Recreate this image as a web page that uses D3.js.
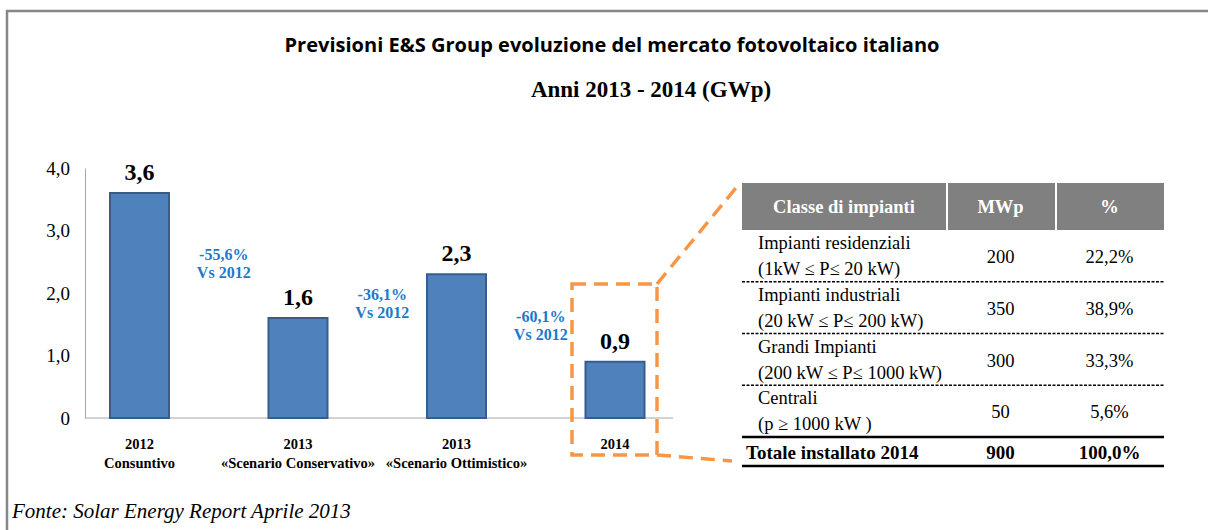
<!DOCTYPE html>
<html>
<head>
<meta charset="utf-8">
<script src="https://cdn.jsdelivr.net/npm/d3@7"></script>
<style>
  body { margin: 0; background: #fff; }
  svg { display: block; }
</style>
</head>
<body>
<script>
// dati del grafico
let years = ["2012", "2013", "2013", "2014"];
let scenarios = ["Consuntivo", "«Scenario Conservativo»", "«Scenario Ottimistico»", ""];
let values = [3.6, 1.6, 2.3, 0.9];
let changes = ["-55,6%", "-36,1%", "-60,1%"];
let yTicks = [0, 1, 2, 3, 4];

// tabella 2014
let classes = ["Impianti residenziali", "Impianti industriali", "Grandi Impianti", "Centrali"];
let ranges = ["(1kW \u2264 P\u2264 20 kW)", "(20 kW \u2264 P\u2264 200 kW)", "(200 kW \u2264 P\u2264  1000 kW)", "(p \u2265 1000 kW )"];
let mwp = [200, 350, 300, 50];
let headers = ["Classe di impianti", "MWp", "%"];

let width = 1208,
    height = 530;

let it = d3.formatLocale({ decimal: ",", thousands: ".", grouping: [3], currency: ["€", ""] });
let f1 = it.format(".1f");
let serif = "'Liberation Serif', 'Times New Roman', serif";

let svg = d3.select("body").append("svg")
    .attr("width", width).attr("height", height);

// cornice
svg.append("path")
    .attr("d", "M7,530 V11 H1208")
    .attr("fill", "none").attr("stroke", "#878787").attr("stroke-width", 2.5);

// titoli
svg.append("text").attr("x", 612).attr("y", 52)
    .attr("text-anchor", "middle")
    .attr("font-family", "'Open Sans', sans-serif").attr("font-weight", "bold")
    .attr("font-size", 19.5).attr("textLength", 655).attr("lengthAdjust", "spacingAndGlyphs")
    .text("Previsioni E&S Group evoluzione del mercato fotovoltaico italiano");

svg.append("text").attr("x", 651).attr("y", 97)
    .attr("text-anchor", "middle")
    .attr("font-family", serif).attr("font-weight", "bold").attr("font-size", 23)
    .text("Anni 2013 - 2014 (GWp)");

// scale
let x = d3.scalePoint().domain(d3.range(values.length)).range([139.5, 615]);
let y = d3.scaleLinear().domain([0, 4]).range([418, 168]);
let barW = 59;

// asse y
let yAxis = svg.append("g").attr("transform", "translate(85,0)")
    .call(d3.axisLeft(y).tickValues(yTicks).tickSize(0).tickPadding(15)
        .tickFormat(d => d === 0 ? "0" : f1(d)));
yAxis.select(".domain").attr("stroke", "#a6a6a6").attr("stroke-width", 1);
yAxis.selectAll("text").attr("font-family", serif).attr("font-size", 19).attr("fill", "#000");

// asse x
svg.append("line").attr("x1", 85).attr("x2", 673).attr("y1", y(0)).attr("y2", y(0))
    .attr("stroke", "#a6a6a6").attr("stroke-width", 1);

// barre
svg.selectAll("rect.bar").data(values).join("rect")
    .attr("class", "bar")
    .attr("x", (d, i) => x(i) - barW / 2)
    .attr("y", d => y(d))
    .attr("width", barW)
    .attr("height", d => y(0) - y(d))
    .attr("fill", "#4f81bd").attr("stroke", "#385d8a").attr("stroke-width", 2);

// etichette valori
svg.selectAll("text.val").data(values).join("text")
    .attr("class", "val")
    .attr("x", (d, i) => x(i))
    .attr("y", d => y(d) - 13)
    .attr("text-anchor", "middle")
    .attr("font-family", serif).attr("font-weight", "bold").attr("font-size", 24)
    .text(d => f1(d));

// etichette categorie
let cat = svg.selectAll("text.cat").data(years).join("text")
    .attr("class", "cat")
    .attr("x", (d, i) => x(i)).attr("y", 449)
    .attr("text-anchor", "middle")
    .attr("font-family", serif).attr("font-weight", "bold").attr("font-size", 14.5);
cat.append("tspan").attr("x", (d, i) => x(i)).text(d => d);
cat.append("tspan").attr("x", (d, i) => x(i)).attr("dy", 19).text((d, i) => scenarios[i]);

// variazioni vs 2012
let cx = i => (x(i) + x(i + 1)) / 2 + 5;
let ch = svg.selectAll("text.chg").data(changes).join("text")
    .attr("class", "chg")
    .attr("x", (d, i) => cx(i))
    .attr("y", (d, i) => y((values[i] + values[i + 1]) / 2) + 4)
    .attr("text-anchor", "middle")
    .attr("font-family", serif).attr("font-weight", "bold").attr("font-size", 16)
    .attr("fill", "#1b7bcb");
ch.append("tspan").attr("x", (d, i) => cx(i)).text(d => d);
ch.append("tspan").attr("x", (d, i) => cx(i)).attr("dy", 18).text("Vs 2012");

// riquadro 2014 e raccordo con la tabella
let orange = "#f79646";
let last = values.length - 1;
let bx0 = x(last) - 43, bx1 = x(last) + 42, by0 = 284, by1 = 455;
svg.append("rect").attr("x", bx0).attr("y", by0).attr("width", bx1 - bx0).attr("height", by1 - by0)
    .attr("fill", "none").attr("stroke", orange).attr("stroke-width", 3.5)
    .attr("stroke-dasharray", "14,8");
svg.append("line").attr("x1", bx1).attr("y1", by0).attr("x2", 740).attr("y2", 183)
    .attr("stroke", orange).attr("stroke-width", 3.5).attr("stroke-dasharray", "14,8");
svg.append("line").attr("x1", bx1).attr("y1", by1).attr("x2", 732).attr("y2", 461)
    .attr("stroke", orange).attr("stroke-width", 3.5).attr("stroke-dasharray", "14,8");

// tabella
let cols = [742, 946, 1055, 1164];
let total = d3.sum(mwp);
let pct = it.format(".1%");
let t = svg.append("g");

t.selectAll("rect.head").data(headers).join("rect")
    .attr("class", "head")
    .attr("x", (d, i) => cols[i] + (i ? 2 : 0))
    .attr("y", 183)
    .attr("width", (d, i) => cols[i + 1] - cols[i] - (i ? 2 : 0))
    .attr("height", 47)
    .attr("fill", "#808080");
t.selectAll("text.head").data(headers).join("text")
    .attr("class", "head")
    .attr("x", (d, i) => (cols[i] + cols[i + 1]) / 2)
    .attr("y", 213)
    .attr("text-anchor", "middle")
    .attr("font-family", serif).attr("font-weight", "bold").attr("font-size", 18.5)
    .attr("fill", "#fff")
    .text(d => d);

let row = d3.scaleBand().domain(d3.range(mwp.length)).range([230, 437]);

t.selectAll("line.sep").data(d3.range(1, mwp.length)).join("line")
    .attr("class", "sep")
    .attr("x1", cols[0]).attr("x2", cols[3])
    .attr("y1", d => row(d)).attr("y2", d => row(d))
    .attr("stroke", "#000").attr("stroke-width", 1.5).attr("stroke-dasharray", "3,1.5");

let r = t.selectAll("g.row").data(mwp).join("g")
    .attr("class", "row")
    .attr("transform", (d, i) => `translate(0,${row(i)})`)
    .attr("font-family", serif).attr("font-size", 18.5).attr("fill", "#000");
r.append("text").attr("x", 758).attr("y", 19).text((d, i) => classes[i]);
r.append("text").attr("x", 758).attr("y", 45).text((d, i) => ranges[i]);
r.append("text").attr("x", (cols[1] + cols[2]) / 2).attr("y", 33).attr("text-anchor", "middle").text(d => d);
r.append("text").attr("x", (cols[2] + cols[3]) / 2).attr("y", 33).attr("text-anchor", "middle").text(d => pct(d / total));

// totale
[437, 466].forEach(v => t.append("line")
    .attr("x1", cols[0]).attr("x2", cols[3]).attr("y1", v).attr("y2", v)
    .attr("stroke", "#000").attr("stroke-width", 2.5));
let tot = t.append("g").attr("font-family", serif).attr("font-weight", "bold").attr("font-size", 19);
tot.append("text").attr("x", 746).attr("y", 459).text("Totale installato 2014");
tot.append("text").attr("x", (cols[1] + cols[2]) / 2).attr("y", 459).attr("text-anchor", "middle").text(total);
tot.append("text").attr("x", (cols[2] + cols[3]) / 2).attr("y", 459).attr("text-anchor", "middle").text(pct(1));

// fonte
svg.append("text").attr("x", 12).attr("y", 518)
    .attr("font-family", serif).attr("font-style", "italic").attr("font-size", 21)
    .text("Fonte: Solar Energy Report Aprile 2013");
</script>
</body>
</html>
